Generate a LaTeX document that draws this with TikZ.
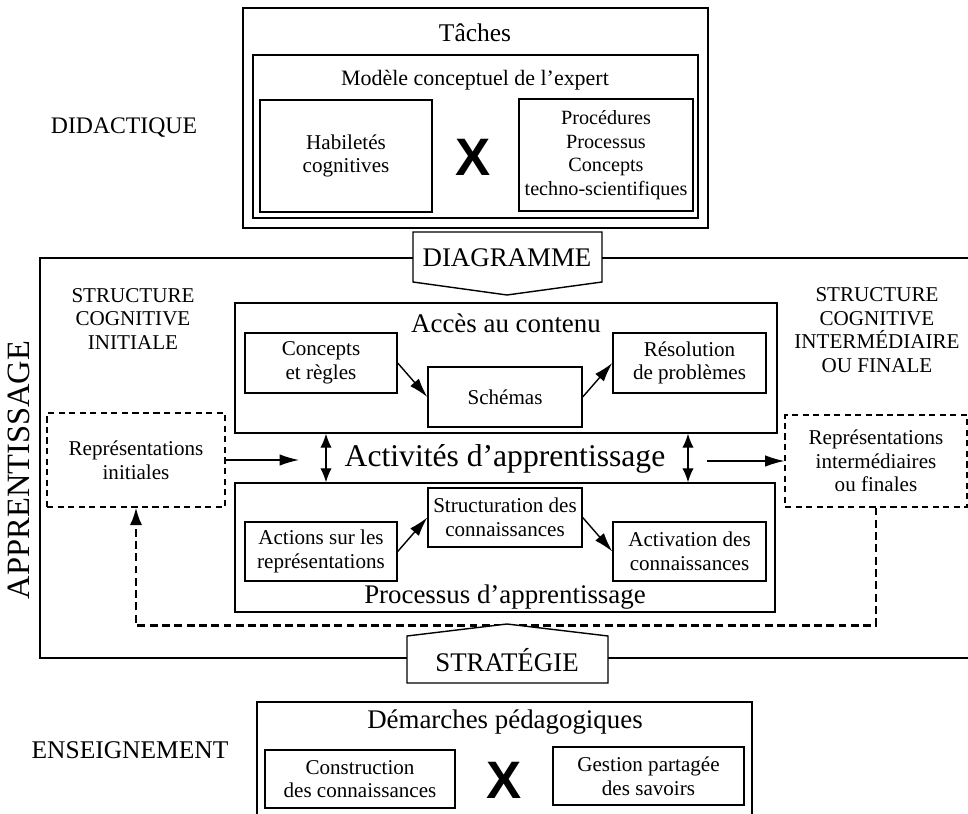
\documentclass[tikz,border=0pt]{standalone}
\usepackage{fontspec}
\setmainfont{Liberation Serif}
\newfontfamily\xfont{Liberation Sans}
\usetikzlibrary{arrows.meta,positioning}

\tikzset{
  box/.style={draw, line width=0.8pt, align=center, inner sep=0pt, font=\fontsize{12}{13.5}\selectfont},
  dbox/.style={box, dash pattern=on 3.5pt off 2.5pt, line width=0.6pt},
  title/.style={inner sep=0pt, font=\fontsize{15.3}{17}\selectfont},
  lbl/.style={align=center, inner sep=0pt, font=\fontsize{12}{13.5}\selectfont},
  times/.style={inner sep=0pt, font=\xfont\bfseries\fontsize{30}{30}\selectfont},
  tip/.style={-{Latex[length=11pt,width=6.5pt]}, line width=0.8pt},
  dbl/.style={{Latex[length=8pt,width=6.5pt]}-{Latex[length=8pt,width=6.5pt]}, line width=0.8pt},
  fb/.style={line width=1.6pt, dash pattern=on 4.5pt off 2.5pt},
}

\begin{document}
\begin{tikzpicture}[x=0.02cm, y=-0.02cm]
  \useasboundingbox (0,0) rectangle (968,814);

  \node[lbl, font=\fontsize{13.5}{15}\selectfont] (didac) at (124,128) {DIDACTIQUE};
  \node[box, minimum width=9.3cm, minimum height=4.4cm] (taches) at (475.5,118) {};
  \node[title, font=\fontsize{14.5}{16}\selectfont] (tachest) at (475,33) {Tâches};
  \node[box, minimum width=8.9cm, minimum height=3.26cm] (modele) at (475.5,136.5) {};
  \node[lbl, font=\fontsize{12.5}{14}\selectfont] (modelet) at (475,80) {Modèle conceptuel de l'expert};
  \node[box, minimum width=3.44cm, minimum height=2.24cm] (habil) at (346,156) {Habiletés\\cognitives};
  \node[times] (x1) at (473,157) {X};
  \node[box, minimum width=3.48cm, minimum height=2.24cm, font=\fontsize{11.5}{13.5}\selectfont] (proced) at (606,155) {Procédures\\Processus\\Concepts\\techno-scientifiques};

  \draw[line width=0.8pt] (413,232) -- (602,232) -- (602,282) -- (507,295) -- (413,282) -- cycle;
  \node[title] (diag) at (507,258) {DIAGRAMME};
  \draw[line width=1pt] (413,258) -- (40,258) -- (40,658) -- (407,658);
  \draw[line width=1pt] (602,258) -- (968,258);
  \draw[line width=1pt] (608,658) -- (968,658);
  \node[title, rotate=90, font=\fontsize{18.5}{20}\selectfont] (appr) at (19,470) {APPRENTISSAGE};

  \node[lbl] (sci) at (133,319) {STRUCTURE\\COGNITIVE\\INITIALE};
  \node[lbl] (scf) at (877,330) {STRUCTURE\\COGNITIVE\\INTERMÉDIAIRE\\OU FINALE};

  \node[box, minimum width=10.84cm, minimum height=2.6cm] (acces) at (506,368) {};
  \node[title] (accest) at (506,323) {Accès au contenu};
  \node[box, minimum width=3.04cm, minimum height=1.2cm] (concepts) at (321,363) {Concepts\\et règles};
  \node[box, minimum width=3.08cm, minimum height=1.2cm] (schemas) at (505,397) {Schémas};
  \node[box, minimum width=3.06cm, minimum height=1.2cm] (resol) at (689.5,363) {Résolution\\de problèmes};

  \node[inner sep=0pt, font=\fontsize{18}{20}\selectfont] (activ) at (505,459) {Activités d'apprentissage};

  \node[box, minimum width=10.8cm, minimum height=2.58cm] (proc) at (505,547.5) {};
  \node[title] (proct) at (505,597) {Processus d'apprentissage};
  \node[box, minimum width=3.04cm, minimum height=1.18cm] (actions) at (321,551.5) {Actions sur les\\représentations};
  \node[box, minimum width=3.08cm, minimum height=1.18cm] (struct) at (505,517.5) {Structuration des\\connaissances};
  \node[box, minimum width=3.06cm, minimum height=1.18cm] (activa) at (689.5,551.5) {Activation des\\connaissances};

  \node[dbox, minimum width=3.56cm, minimum height=1.88cm] (rini) at (136,460) {Représentations\\initiales};
  \node[dbox, minimum width=3.64cm, minimum height=1.84cm] (rfin) at (876,461) {Représentations\\intermédiaires\\ou finales};

  \coordinate (inarr) at (299,460);
  \coordinate (outarr) at (707,461);
  \coordinate (dl) at (326,458);
  \coordinate (dr) at (688,458);

  \draw[tip] (concepts.east) -- (schemas.west);
  \draw[tip] (schemas.east) -- (resol.west);
  \draw[tip] (actions.east) -- (struct.west);
  \draw[tip] (struct.east) -- (activa.west);
  \draw[tip] (rini.east) -- (inarr);
  \draw[tip] (outarr) -- (rfin.west);
  \draw[dbl] (dl |- acces.south) -- (dl |- proc.north);
  \draw[dbl] (dr |- acces.south) -- (dr |- proc.north);
  \draw[fb, -{Latex[length=10pt,width=7pt]}] (rfin.south) -- ++(0,118) -| (rini.south);

  \draw[line width=0.8pt, fill=white] (407,683) -- (608,683) -- (608,636) -- (507,624) -- (407,636) -- cycle;
  \node[title] (strat) at (507,660) {STRATÉGIE};

  \node[lbl, font=\fontsize{14.5}{16}\selectfont] (ensei) at (130,750) {ENSEIGNEMENT};
  \draw[line width=0.8pt] (257,814) -- (257,702) -- (752,702) -- (752,814);
  \node[title] (demt) at (505,722) {Démarches pédagogiques};
  \node[box, minimum width=3.8cm, minimum height=1.16cm] (constr) at (360,779) {Construction\\des connaissances};
  \node[times] (x2) at (504,780) {X};
  \node[box, minimum width=3.82cm, minimum height=1.16cm] (gestion) at (648.5,776) {Gestion partagée\\des savoirs};
\end{tikzpicture}
\end{document}
